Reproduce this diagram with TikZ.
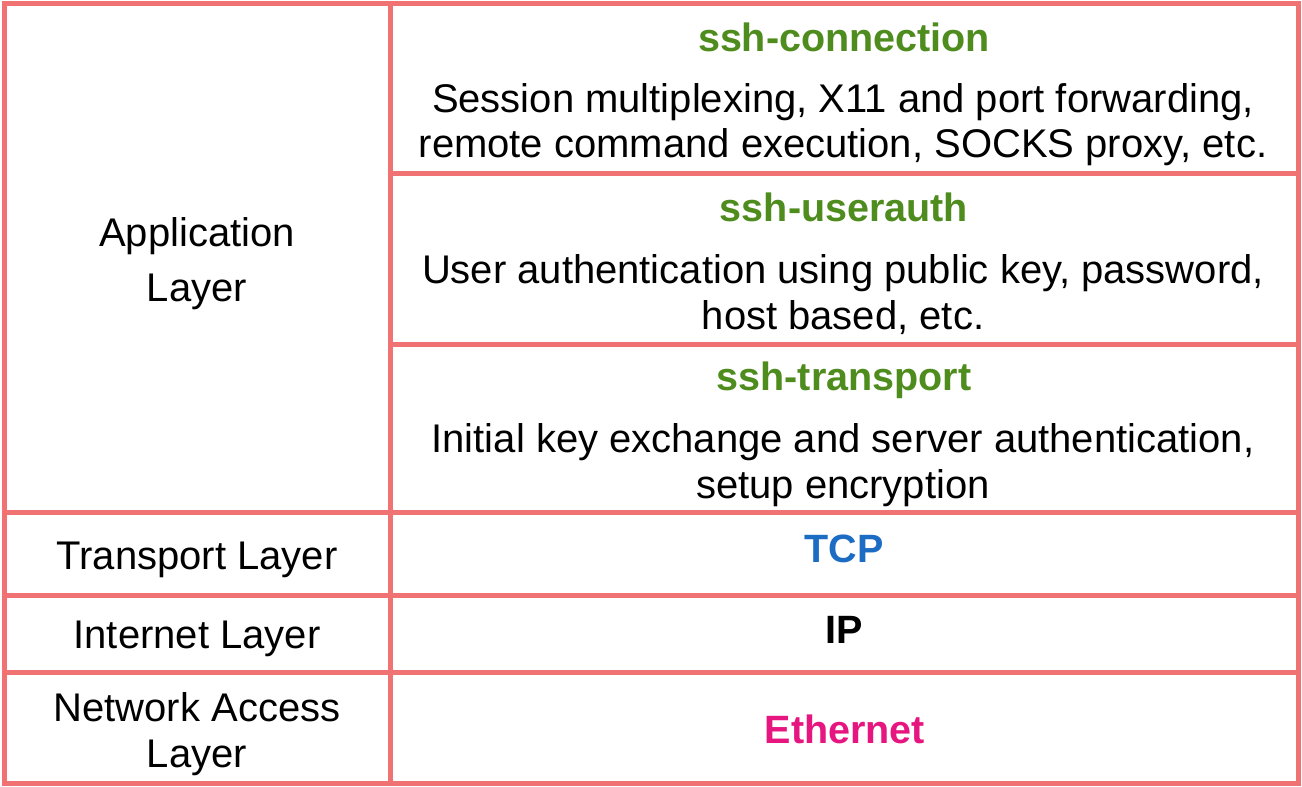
\documentclass[tikz,border=0pt]{standalone}
\usepackage{fontspec}
\setmainfont{Liberation Sans}
\definecolor{gridred}{RGB}{240,114,114}
\definecolor{sshgreen}{RGB}{78,140,30}
\definecolor{tcpblue}{RGB}{29,108,196}
\definecolor{ethpink}{RGB}{230,21,127}
\begin{document}
\begin{tikzpicture}[x=1pt,y=-1pt,
  gridline/.style={draw=gridred,line width=5pt},
  txt/.style={anchor=base,inner sep=0pt,font=\fontsize{40}{46}\selectfont},
  ttl/.style={anchor=base,inner sep=0pt,font=\fontsize{39.5}{45}\selectfont\bfseries}]
\useasboundingbox (0,0) rectangle (1302,787);
\fill[white] (0,0) rectangle (1302,787);
% grid
\draw[gridline] (4.5,3.5) rectangle (1298,783);
\draw[gridline] (390,3.5) -- (390,783);
\draw[gridline] (390,173) -- (1298,173);
\draw[gridline] (390,344) -- (1298,344);
\draw[gridline] (4.5,512) -- (1298,512);
\draw[gridline] (4.5,595.5) -- (1298,595.5);
\draw[gridline] (4.5,672) -- (1298,672);
% right column
\node[ttl,text=sshgreen] (conn) at (844,51) {ssh-connection};
\node[txt] (conn1) at (843,112) {Session multiplexing, X11 and port forwarding,};
\node[txt] (conn2) at (843,157) {remote command execution, SOCKS proxy, etc.};
\node[ttl,text=sshgreen] (auth) at (844,221) {ssh-userauth};
\node[txt] (auth1) at (843,283) {User authentication using public key, password,};
\node[txt] (auth2) at (843,329) {host based, etc.};
\node[ttl,text=sshgreen] (trans) at (844,390) {ssh-transport};
\node[txt] (trans1) at (843,452) {Initial key exchange and server authentication,};
\node[txt] (trans2) at (843,498) {setup encryption};
\node[ttl,text=tcpblue] (tcp) at (844,562) {TCP};
\node[ttl] (ip) at (844,643) {IP};
\node[ttl,text=ethpink] (eth) at (845,743) {Ethernet};
% left column
\node[txt] (app1) at (197,246) {Application};
\node[txt] (app2) at (197,301) {Layer};
\node[txt] (tl) at (197,569) {Transport Layer};
\node[txt] (il) at (197,648) {Internet Layer};
\node[txt] (na1) at (197,721) {Network Access};
\node[txt] (na2) at (197,767) {Layer};
\end{tikzpicture}
\end{document}
